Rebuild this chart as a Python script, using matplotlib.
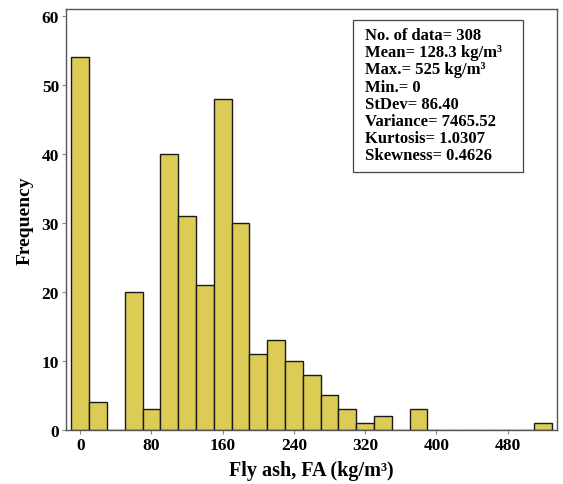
import matplotlib
matplotlib.use("Agg")
import matplotlib.pyplot as plt
from matplotlib.patches import Rectangle

# Histogram of fly ash content (bin width 20 kg/m³, centred on multiples of 20)
bin_centers = [0, 20, 40, 60, 80, 100, 120, 140, 160, 180, 200, 220, 240, 260,
               280, 300, 320, 340, 360, 380, 400, 420, 440, 460, 480, 500, 520]
counts = [54, 4, 0, 20, 3, 40, 31, 21, 48, 30, 11, 13, 10, 8,
          5, 3, 1, 2, 0, 3, 0, 0, 0, 0, 0, 0, 1]
bin_width = 20

x_ticks = [0, 80, 160, 240, 320, 400, 480]
y_ticks = [0, 10, 20, 30, 40, 50, 60]

stats_lines = [
    "No. of data= 308",
    "Mean= 128.3 kg/m³",
    "Max.= 525 kg/m³",
    "Min.= 0",
    "StDev= 86.40",
    "Variance= 7465.52",
    "Kurtosis= 1.0307",
    "Skewness= 0.4626",
]

plt.rcParams["font.family"] = ["Liberation Serif", "DejaVu Serif"]
plt.rcParams["font.weight"] = "bold"

fig = plt.figure(figsize=(5.63, 4.85), dpi=100)
ax = fig.add_axes([66 / 563, 1 - 431 / 485, (557 - 66) / 563, (431 - 10) / 485])

ax.bar(bin_centers, counts, width=bin_width, color="#DCCB55",
       edgecolor="#1a1a1a", linewidth=1.0, align="center")

ax.set_xlim(-16, 535.6)
ax.set_ylim(0, 61)
ax.set_xticks(x_ticks)
ax.set_yticks(y_ticks)
ax.tick_params(axis="both", labelsize=12.5, length=3, width=0.8, color="#888888", pad=2)
for lbl in ax.get_xticklabels() + ax.get_yticklabels():
    lbl.set_fontweight("bold")

for sp in ax.spines.values():
    sp.set_color("#555555")
    sp.set_linewidth(1.0)

ax.set_xlabel("Fly ash, FA (kg/m³)", fontsize=14.5, fontweight="bold", labelpad=5)
ax.set_ylabel("Frequency", fontsize=14, fontweight="bold", labelpad=6)

# Summary statistics panel
ax.add_patch(Rectangle((0.5845, 0.6128), 0.9308 - 0.5845, 0.9739 - 0.6128,
                       transform=ax.transAxes, facecolor="white",
                       edgecolor="#444444", linewidth=0.9, zorder=3))
ax.text(0.609, 0.9565, "\n".join(stats_lines), transform=ax.transAxes,
        fontsize=12, fontweight="bold", va="top", ha="left", linespacing=1.09,
        zorder=4)

fig.savefig("out.png", dpi=100)
